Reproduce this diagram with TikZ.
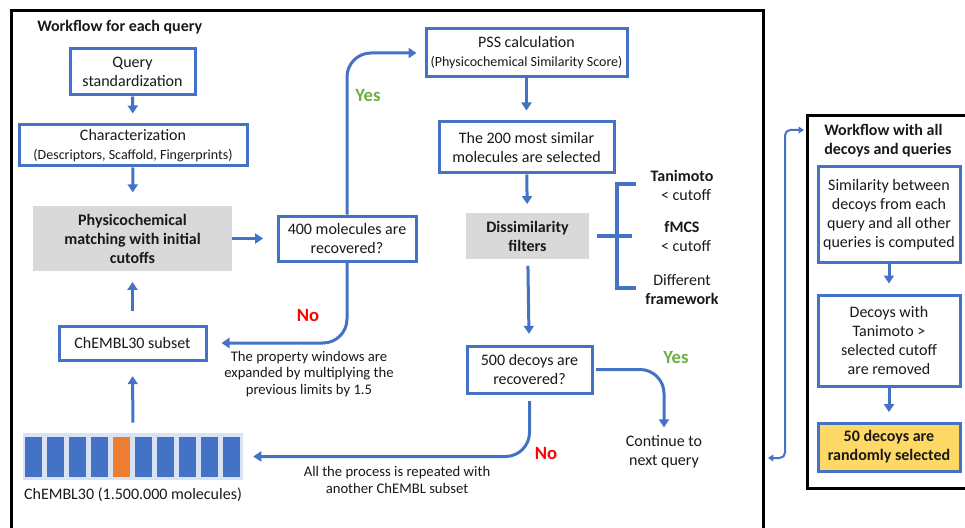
\documentclass[tikz,border=0pt]{standalone}
\usepackage{fontspec}
\setmainfont{Carlito}
\usetikzlibrary{arrows.meta}

\definecolor{flowblue}{RGB}{68,114,196}
\definecolor{boxgray}{RGB}{217,217,217}
\definecolor{barback}{RGB}{218,227,243}
\definecolor{barorange}{RGB}{237,125,49}
\definecolor{pickyellow}{RGB}{255,217,102}
\definecolor{yesgreen}{RGB}{112,173,71}
\definecolor{inkgray}{RGB}{25,25,25}

\tikzstyle{frame}=[draw=black,line width=2.25pt]
\tikzstyle{stepbox}=[draw=flowblue,line width=2.25pt,fill=white,align=center,inner sep=0pt,text=inkgray,font=\fontsize{12}{14.25}\selectfont]
\tikzstyle{graybox}=[fill=boxgray,align=center,inner sep=0pt,text=inkgray,font=\fontsize{12}{14.25}\selectfont\bfseries]
\tikzstyle{flow}=[draw=flowblue,line width=2.25pt,-{Triangle[width=7.5pt,length=6pt]}]
\tikzstyle{bracket}=[draw=flowblue,line width=3pt]
\tikzstyle{note}=[align=center,inner sep=0pt,text=inkgray,font=\fontsize{11}{12.4}\selectfont]
\tikzstyle{plain}=[align=center,inner sep=0pt,text=inkgray,font=\fontsize{12}{14.25}\selectfont]
\tikzstyle{yeslabel}=[text=yesgreen,font=\fontsize{14}{16}\selectfont\bfseries]
\tikzstyle{nolabel}=[text=red,font=\fontsize{14}{16}\selectfont\bfseries]

\begin{document}
\begin{tikzpicture}[x=0.75pt,y=-0.75pt]

   \useasboundingbox (0,0) rectangle (965,528);

   % Frames

   \draw[frame] (11,11) rectangle (763,545);
   \draw[frame] (807,116) rectangle (975,488);

   \node[anchor=west,inner sep=0pt,text=inkgray,font=\fontsize{12}{14}\selectfont\bfseries] (title1) at (37,27) {Workflow for each query};
   \node[anchor=north west,align=left,inner sep=0pt,text=inkgray,font=\fontsize{12}{14.25}\selectfont\bfseries] (title2) at (824,124) {Workflow with all\\decoys and queries};

   % Query preparation

   \node[stepbox,minimum width=93.75pt,minimum height=34.5pt] (query) at (132.5,72) {Query\\standardization};
   \node[stepbox,minimum width=171pt,minimum height=30.75pt] (charact) at (133,145.5) {Characterization\\{\fontsize{10.5}{12}\selectfont(Descriptors, Scaffold, Fingerprints)}};
   \node[graybox,minimum width=149.25pt,minimum height=48.75pt] (physchem) at (132.5,238.5) {Physicochemical\\matching with initial\\cutoffs};
   \node[stepbox,minimum width=110.25pt,minimum height=25.5pt] (subset) at (132.5,343) {ChEMBL30 subset};

   % ChEMBL30 bars

   \node[fill=barback,minimum width=165pt,minimum height=35.25pt,inner sep=0pt] (bars) at (133,456.5) {};
   \foreach \i in {0,...,9}
      \fill[flowblue] (25+22*\i,437) rectangle (42+22*\i,477);
   \fill[barorange] (113,437) rectangle (130,477);
   \node[plain] (barsname) at (133,495) {ChEMBL30 (1.500.000 molecules)};

   % Decision on 400 molecules

   \node[stepbox,minimum width=103.5pt,minimum height=33.75pt] (rec400) at (347,238.5) {400 molecules are\\recovered?};
   \node[yeslabel] (yes1) at (368,96) {Yes};
   \node[nolabel] (no1) at (308,316) {No};
   \node[note] (widen) at (309,374) {The property windows are\\expanded by multiplying the\\previous limits by 1.5};

   % PSS and filters

   \node[stepbox,minimum width=150.75pt,minimum height=36pt] (pss) at (526.5,53) {PSS calculation\\{\fontsize{10.5}{12}\selectfont(Physicochemical Similarity Score)}};
   \node[stepbox,minimum width=131.25pt,minimum height=38.25pt] (top200) at (526.5,147.5) {The 200 most similar\\molecules are selected};
   \node[graybox,minimum width=92.25pt,minimum height=34.5pt] (dissim) at (527.5,236) {Dissimilarity\\filters};

   \node[plain] (tani) at (682,185) {\textbf{Tanimoto}\\\,\,\,< cutoff};
   \node[plain] (fmcs) at (682,236.5) {\textbf{fMCS}\\\,\,\,< cutoff};
   \node[plain] (frwk) at (682,290) {Different\\\textbf{framework}};

   \coordinate (brmid) at (632,236);
   \draw[bracket] (636,184) -- (617,184) -- (617,288) -- (636,288);
   \draw[bracket,shorten <=6pt] (dissim.east) -- (brmid);

   % Decision on 500 decoys

   \node[stepbox,minimum width=93.75pt,minimum height=35.25pt] (rec500) at (529.5,369.5) {500 decoys are\\recovered?};
   \node[yeslabel] (yes2) at (676,358) {Yes};
   \node[nolabel] (no2) at (546,454) {No};
   \node[plain] (cont) at (664,452) {Continue to\\next query};
   \node[note] (repeat) at (397,480) {All the process is repeated with\\another ChEMBL subset};

   % Workflow with all decoys

   \node[stepbox,minimum width=106.5pt,minimum height=71.25pt] (simil) at (889,214.5) {Similarity between\\decoys from each\\query and all other\\queries is computed};
   \node[stepbox,minimum width=106.5pt,minimum height=68.25pt] (removed) at (889,340.5) {Decoys with\\Tanimoto >\\selected cutoff\\are removed};
   \node[stepbox,fill=pickyellow,font=\fontsize{12}{14.25}\selectfont\bfseries,minimum width=106.5pt,minimum height=36pt] (random) at (889,447) {50 decoys are\\randomly selected};

   \coordinate (lnktop) at (804,130);
   \coordinate (lnkbot) at (768,458);

   % Connectors

   \draw[flow,shorten >=7.5pt] (query) -- (charact);
   \draw[flow,shorten >=10pt] (charact) -- (physchem);
   \draw[flow,shorten <=10pt,shorten >=8pt] (subset) -- (physchem);
   \draw[flow,shorten <=7.5pt,shorten >=11pt] (bars) -- (subset);
   \draw[flow,shorten >=10pt] (physchem) -- (rec400);
   \draw[flow,rounded corners=18pt,shorten >=6pt] (rec400.north) |- (pss.west);
   \draw[flow,rounded corners=18pt,shorten >=10.5pt] (rec400.south) |- (subset.east);
   \draw[flow,shorten >=7.5pt] (pss) -- (top200);
   \draw[flow,shorten >=6.5pt] (top200) -- (dissim);
   \draw[flow,shorten <=5pt,shorten >=8pt] (dissim) -- (rec500);
   \draw[flow,rounded corners=18pt,shorten <=2pt,shorten >=6pt] (rec500.east) -| (cont.north);
   \draw[flow,rounded corners=18pt,shorten <=5pt,shorten >=7.5pt] (rec500.south) |- (bars.east);
   \draw[flow,shorten >=7.5pt] (simil) -- (removed);
   \draw[flow,shorten >=7pt] (removed) -- (random);
   \draw[draw=flowblue,line width=1.5pt,rounded corners=4pt,{Triangle[width=5pt,length=4pt]}-{Triangle[width=5pt,length=4pt]}] (lnkbot) -- (785,458) -- (785,130) -- (lnktop);

\end{tikzpicture}
\end{document}
